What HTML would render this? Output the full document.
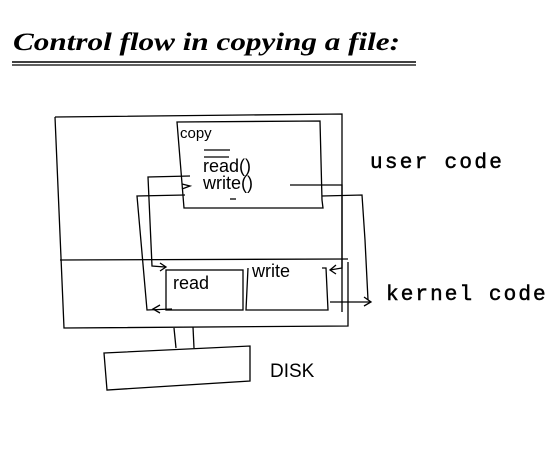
<!DOCTYPE html>
<html><head><style>
html,body{margin:0;padding:0;background:#fff;}
svg{display:block;}
</style></head><body>
<svg width="560" height="460" viewBox="0 0 560 460" xmlns="http://www.w3.org/2000/svg">
<g fill="none" stroke="#000" stroke-width="1.3">
<text x="13" y="50" font-family="Liberation Serif, serif" font-style="italic" font-weight="bold" font-size="25" textLength="387" lengthAdjust="spacingAndGlyphs" fill="#000" stroke="none">Control flow in copying a file:</text>
<line x1="12" y1="62" x2="416" y2="62" stroke-width="1.5"/>
<line x1="12" y1="65" x2="416" y2="65"/>
<path d="M55 117 L342 114 L342 312 M55 117 L64 328 L348 326 L348 262"/>
<line x1="60" y1="260" x2="348" y2="259"/>
<path d="M177 122 L320 121 L322 200 L323 208 L184 208 Z"/>
<text x="180" y="138" font-family="Liberation Sans, sans-serif" font-size="15" fill="#000" stroke="none">copy</text>
<line x1="204" y1="150" x2="230" y2="150"/>
<text x="203" y="172" font-family="Liberation Sans, sans-serif" font-size="18" fill="#000" stroke="none">read()</text>
<text x="203" y="189" font-family="Liberation Sans, sans-serif" font-size="18" fill="#000" stroke="none">write()</text>
<line x1="204" y1="157" x2="229" y2="157"/>
<line x1="230" y1="199" x2="236" y2="199"/>
<path d="M190 176 L148 177 L152 266 L165 267"/>
<path d="M160 263 L166 267 L160 271"/>
<path d="M182 184 L190 186 L182 189"/>
<path d="M185 195 L137 196 L147 310 L172 309"/>
<path d="M160 305 L153 309 L160 313"/>
<path d="M290 185 L342 185 L342 268 L330 270"/>
<path d="M336 265 L330 270 L336 274"/>
<path d="M322 196 L362 195 L365 240 L368 300"/>
<path d="M330 302 L370 302"/>
<path d="M364 297 L371 302 L364 306"/>
<rect x="166" y="270" width="77" height="40"/>
<text x="173" y="289" font-family="Liberation Sans, sans-serif" font-size="18" fill="#000" stroke="none">read</text>
<path d="M248 268 L246 310 L328 310 L326 268 L322 268"/>
<text x="252" y="277" font-family="Liberation Sans, sans-serif" font-size="18" fill="#000" stroke="none">write</text>
<line x1="174" y1="328" x2="176" y2="348"/>
<line x1="193" y1="327" x2="194" y2="348"/>
<path d="M104 353 L250 346 L250 381 L107 390 Z"/>
<text x="270" y="377" font-family="Liberation Sans, sans-serif" font-size="19" fill="#000" stroke="none">DISK</text>
<text x="370" y="168" font-family="Liberation Mono, monospace" font-size="21" letter-spacing="2.3" fill="#000" stroke="#000" stroke-width="0.5">user code</text>
<text x="386" y="300" font-family="Liberation Mono, monospace" font-size="21" letter-spacing="2.1" fill="#000" stroke="#000" stroke-width="0.5">kernel code</text>
</g>
</svg>
</body></html>
